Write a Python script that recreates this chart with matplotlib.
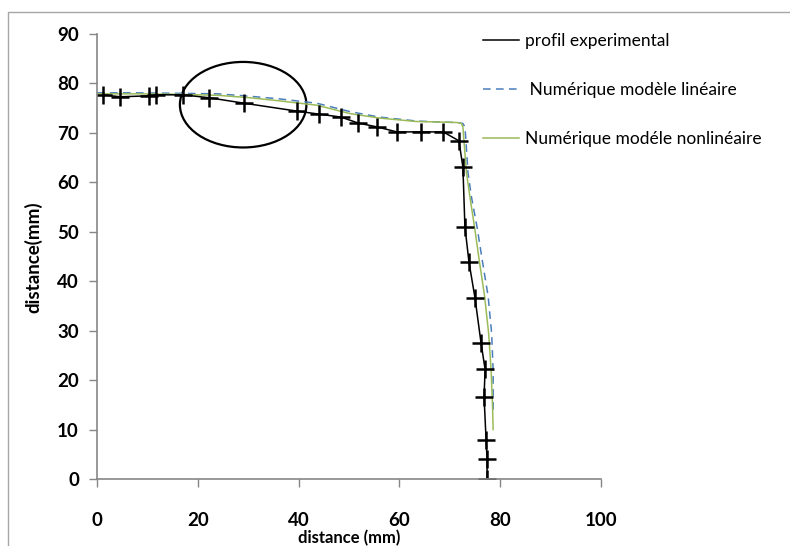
import matplotlib
matplotlib.use("Agg")
import matplotlib.pyplot as plt
from matplotlib.lines import Line2D
from matplotlib.patches import Ellipse, Rectangle

# Experimental profile (markers '+')
exp_x = [1.1, 4.6, 10.4, 11.8, 17.0, 22.3, 29.2, 39.7, 44.0, 48.4, 51.8, 55.6, 59.5,
         64.3, 68.7, 71.8, 72.6, 73.0, 73.8, 75.0, 76.2, 77.0, 76.8, 77.2, 77.4, 77.4]
exp_y = [77.7, 77.3, 77.5, 77.7, 77.7, 77.1, 76.0, 74.4, 73.8, 73.2, 72.0, 71.2, 70.2,
         70.2, 70.2, 68.4, 63.1, 51.0, 43.9, 36.6, 27.5, 22.2, 16.6, 7.9, 4.0, 0.0]

# Numerical, linear model (blue dashed)
lin_x = [0, 8, 16, 24, 30.4, 36, 43.6, 50.2, 56, 63.4, 68, 71.4, 72.6, 73.0, 73.2,
         73.6, 74.3, 75.4, 76.4, 77.6, 78.3, 78.6, 78.6]
lin_y = [78.1, 78.1, 78.0, 77.9, 77.4, 76.9, 76.0, 74.3, 73.2, 72.4, 72.2, 72.1, 71.9,
         71.2, 68.5, 62.0, 57.0, 51.0, 44.5, 37.0, 29.5, 22.0, 14.0]

# Numerical, nonlinear model (green)
nl_x = [0, 8, 16, 24, 30.4, 36, 43.6, 50.2, 56, 63.4, 68, 71.4, 72.3, 72.6, 72.8,
        73.3, 74.0, 74.9, 75.8, 76.9, 77.7, 78.2, 78.5, 78.6]
nl_y = [77.9, 77.9, 77.8, 77.6, 77.1, 76.5, 75.6, 73.9, 73.0, 72.3, 72.2, 72.1, 71.9,
        71.2, 68.5, 62.0, 57.0, 51.0, 44.5, 37.0, 29.5, 22.0, 14.0, 10.0]

labels = ["profil experimental", " Numérique modèle linéaire", "Numérique modéle nonlinéaire"]
x_ticks = [0, 20, 40, 60, 80, 100]
y_ticks = [0, 10, 20, 30, 40, 50, 60, 70, 80, 90]

plt.rcParams['font.family'] = ['Lato', 'DejaVu Sans']

fig = plt.figure(figsize=(7.9, 5.46), dpi=100)
W, H = 790, 546
ax = fig.add_axes([97 / W, 1 - 479 / H, (601 - 97) / W, (479 - 34) / H])

# chart-area border (Excel style)
fig.patches.append(Rectangle((8 / W, -0.1), 1.2, 1 - 12 / H + 0.1, transform=fig.transFigure,
                             fill=False, edgecolor='#a6a6a6', lw=1.0))

blue = '#4a7ebb'
green = '#9bbb59'
ax.plot(lin_x, lin_y, color=blue, lw=1.1, ls=(0, (5, 3.5)))
ax.plot(nl_x, nl_y, color=green, lw=1.1)
ax.plot(exp_x, exp_y, color='black', lw=1.1, marker='+', markersize=13, mew=1.8)

ax.add_patch(Ellipse((29.0, 75.7), 25.1, 17.3, fill=False, edgecolor='black', lw=1.6))

ax.set_xlim(0, 100)
ax.set_ylim(0, 90)
ax.set_xticks(x_ticks)
ax.set_yticks(y_ticks)
for s in ['top', 'right']:
    ax.spines[s].set_visible(False)
for s in ['left', 'bottom']:
    ax.spines[s].set_color('#868686')
    ax.spines[s].set_linewidth(1.2)
ax.tick_params(axis='both', colors='#868686', length=6, width=1.0, labelcolor='black',
               labelsize=13.5)
ax.tick_params(axis='x', pad=18)
ax.tick_params(axis='y', pad=7)
for t in ax.get_xticklabels() + ax.get_yticklabels():
    t.set_fontweight('bold')

fig.text(349 / W, 1 - 538 / H, "distance (mm)", ha='center', va='center',
         fontsize=12, fontweight='bold')
fig.text(33 / W, 1 - 257 / H, "distance(mm)", ha='center', va='center', rotation=90,
         fontsize=13.5, fontweight='bold')

handles = [Line2D([], [], color='black', lw=1.1),
           Line2D([], [], color=blue, lw=1.1, ls=(0, (5, 3.5))),
           Line2D([], [], color=green, lw=1.1)]
fig.legend(handles, labels, loc='upper left', bbox_to_anchor=(483 / W, 1 - 33 / H),
           bbox_transform=fig.transFigure, frameon=False, fontsize=12.5,
           labelspacing=1.9, handlelength=2.1, handletextpad=0.3,
           borderpad=0, borderaxespad=0)

fig.savefig("out.png", dpi=100)
